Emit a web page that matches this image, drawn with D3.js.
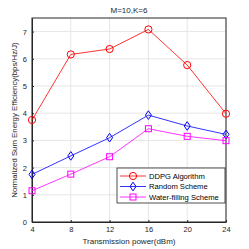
<!DOCTYPE html>
<html>
<head>
<meta charset="utf-8">
<script src="https://cdn.jsdelivr.net/npm/d3@7"></script>
<style>
  body { margin: 0; background: #fff; }
  svg { display: block; font-family: "Liberation Sans", Arial, sans-serif; }
</style>
</head>
<body>
<div id="chart"></div>
<script>
const powers = [4, 8, 12, 16, 20, 24];
const ddpg = [3.75, 6.16, 6.36, 7.08, 5.77, 3.98];
const randomScheme = [1.75, 2.43, 3.1, 3.93, 3.53, 3.22];
const waterFilling = [1.15, 1.76, 2.4, 3.43, 3.15, 2.99];
const xTicks = [4, 8, 12, 16, 20, 24];
const yTicks = [0, 1, 2, 3, 4, 5, 6, 7];

const series = [
  { name: "DDPG Algorithm", values: ddpg, color: "#ff0000", marker: "circle" },
  { name: "Random Scheme", values: randomScheme, color: "#0000ff", marker: "diamond" },
  { name: "Water-filling Scheme", values: waterFilling, color: "#ff00ff", marker: "square" }
];

const width = 249, height = 249;
const margin = { top: 18, right: 23, bottom: 27, left: 32 };

const svg = d3.select("#chart").append("svg")
  .attr("width", width)
  .attr("height", height);

const x = d3.scaleLinear()
  .domain([4, 24])
  .range([margin.left, width - margin.right]);

const y = d3.scaleLinear()
  .domain([0, 7.5])
  .range([height - margin.bottom, margin.top]);

// grid
svg.append("g")
  .selectAll("line.gx")
  .data(xTicks)
  .join("line")
  .attr("x1", d => x(d)).attr("x2", d => x(d))
  .attr("y1", y(0)).attr("y2", y(7.5))
  .attr("stroke", "#e6e6e6").attr("stroke-width", 1);

svg.append("g")
  .selectAll("line.gy")
  .data(yTicks)
  .join("line")
  .attr("x1", x(4)).attr("x2", x(24))
  .attr("y1", d => y(d)).attr("y2", d => y(d))
  .attr("stroke", "#e6e6e6").attr("stroke-width", 1);

// axes
const xAxis = svg.append("g")
  .attr("transform", `translate(0,${y(0)})`)
  .call(d3.axisBottom(x).tickValues(xTicks).tickSizeInner(-2).tickSizeOuter(0).tickPadding(5));

const yAxis = svg.append("g")
  .attr("transform", `translate(${x(4)},0)`)
  .call(d3.axisLeft(y).tickValues(yTicks).tickSizeInner(-2).tickSizeOuter(0).tickPadding(5));

[xAxis, yAxis].forEach(g => {
  g.selectAll("path").attr("stroke", "#262626");
  g.selectAll("line").attr("stroke", "#262626");
  g.selectAll("text").attr("font-size", 7.5).attr("fill", "#262626")
    .attr("font-family", "Liberation Sans, Arial, sans-serif");
});

// box top/right
svg.append("rect")
  .attr("x", x(4)).attr("y", y(7.5))
  .attr("width", x(24) - x(4)).attr("height", y(0) - y(7.5))
  .attr("fill", "none").attr("stroke", "#262626").attr("stroke-width", 1);

// lines + markers
const line = d3.line()
  .x((d, i) => x(powers[i]))
  .y(d => y(d));

function drawMarker(g, type, color) {
  if (type === "circle") {
    g.append("circle").attr("r", 3.6).attr("fill", "none").attr("stroke", color);
  } else if (type === "diamond") {
    g.append("path").attr("d", "M0,-4.3L3,0L0,4.3L-3,0Z").attr("fill", "none").attr("stroke", color);
  } else {
    g.append("rect").attr("x", -3).attr("y", -3).attr("width", 6).attr("height", 6)
      .attr("fill", "none").attr("stroke", color);
  }
}

series.forEach(s => {
  svg.append("path")
    .datum(s.values)
    .attr("d", line)
    .attr("fill", "none")
    .attr("stroke", s.color)
    .attr("stroke-width", 0.8);
  s.values.forEach((v, i) => {
    const g = svg.append("g").attr("transform", `translate(${x(powers[i])},${y(v)})`);
    drawMarker(g, s.marker, s.color);
  });
});

// title and labels
svg.append("text")
  .attr("x", (x(4) + x(24)) / 2).attr("y", 13)
  .attr("text-anchor", "middle").attr("font-size", 8).attr("fill", "#262626")
  .text("M=10,K=6");

svg.append("text")
  .attr("x", (x(4) + x(24)) / 2).attr("y", 244)
  .attr("text-anchor", "middle").attr("font-size", 8).attr("fill", "#262626")
  .text("Transmission power(dBm)");

svg.append("text")
  .attr("transform", `translate(17,${(y(0) + y(7.5)) / 2}) rotate(-90)`)
  .attr("text-anchor", "middle").attr("font-size", 7.8).attr("fill", "#262626")
  .text("Normalized Sum Energy Efficiency(bps/Hz/J)");

// legend
const lx = 117, ly = 168, lw = 108, lh = 35;
svg.append("rect")
  .attr("x", lx).attr("y", ly).attr("width", lw).attr("height", lh)
  .attr("fill", "#fff").attr("stroke", "#262626").attr("stroke-width", 0.8);

series.forEach((s, i) => {
  const cy = ly + 8 + i * 10.5;
  svg.append("line")
    .attr("x1", lx + 3).attr("x2", lx + 29)
    .attr("y1", cy).attr("y2", cy)
    .attr("stroke", s.color).attr("stroke-width", 0.8);
  const g = svg.append("g").attr("transform", `translate(${lx + 16},${cy})`);
  drawMarker(g, s.marker, s.color);
  svg.append("text")
    .attr("x", lx + 32).attr("y", cy + 2.6)
    .attr("font-size", 7.6).attr("fill", "#000")
    .text(s.name);
});
</script>
</body>
</html>
